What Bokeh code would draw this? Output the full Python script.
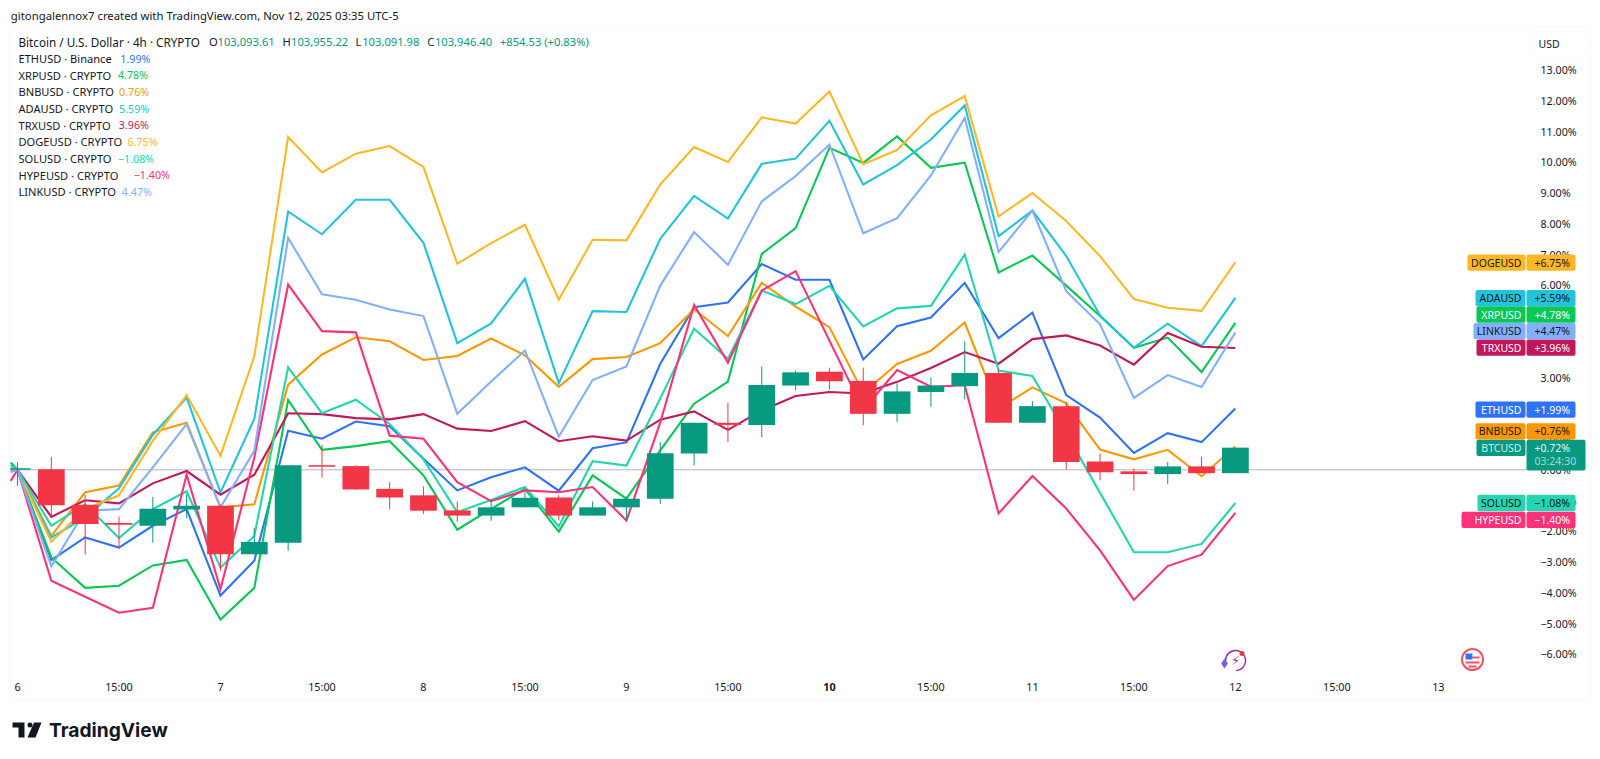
from bokeh.embed import file_html
from bokeh.resources import INLINE
from bokeh.plotting import figure
from bokeh.models import Range1d, FixedTicker, Label, BoxAnnotation, PolyAnnotation
from bokeh.core.properties import value

# ---------- data (percent change against the first bar) ----------
bar_index = list(range(37))
btc_open = [0, .02, -1.14, -1.73, -1.82, -1.29, -1.17, -2.75, -2.37, .15, .12, -.62, -.83, -1.32, -1.49, -1.22, -.90, -1.49, -1.22, -.94, .53, 1.53, 1.46, 2.74, 3.19, 2.89, 1.82, 2.53, 2.72, 3.15, 1.53, 2.07, .27, -.05, -.14, .11, -.11]
btc_high = [.25, .41, -.82, -1.52, -.88, -.79, -1.14, -1.90, .15, .81, .15, -.40, -.54, -1.03, -1.0, -.73, -.83, -1.03, -.87, .90, 1.53, 2.18, 3.36, 3.23, 3.32, 3.32, 2.81, 3.0, 4.18, 3.24, 2.23, 2.21, .53, .04, .25, .42, .72]
btc_low = [-.52, -1.53, -2.75, -2.56, -2.37, -1.57, -3.28, -2.75, -2.63, -.25, -.64, -1.28, -1.43, -1.69, -1.66, -1.22, -1.65, -1.49, -1.65, -1.11, .14, .90, 1.06, 2.58, 2.61, 1.45, 1.56, 2.05, 2.29, 1.53, 1.53, .01, -.34, -.68, -.47, -.11, -.11]
btc_close = [.05, -1.15, -1.76, -1.79, -1.27, -1.17, -2.75, -2.35, .15, .10, -.64, -.90, -1.33, -1.49, -1.22, -.91, -1.49, -1.22, -.94, .54, 1.53, 1.46, 2.76, 3.17, 2.88, 1.82, 2.55, 2.74, 3.15, 1.53, 2.07, .25, -.08, -.14, .11, -.11, .72]

line_index = [-0.2] + list(range(0, 37))
eth = [-.06, 0, -2.94, -2.20, -2.53, -1.82, -1.28, -4.09, -2.96, 1.27, 1.01, 1.57, 1.42, .36, -.67, -.24, .08, -.68, .70, .89, 3.45, 5.29, 5.44, 6.69, 6.18, 6.18, 3.59, 4.67, 4.95, 6.08, 4.28, 5.11, 2.43, 1.70, .55, 1.19, .90, 1.99]
xrp = [.24, 0, -2.85, -3.84, -3.77, -3.11, -2.93, -4.87, -3.84, 2.27, .65, .77, .93, -.18, -1.95, -1.27, -.62, -2.01, -.18, -.94, .63, 2.15, 2.87, 7.02, 7.86, 10.47, 9.98, 10.84, 9.82, 9.99, 6.42, 6.97, 5.99, 5.0, 3.97, 4.30, 3.18, 4.78]
bnb = [.06, 0, -2.15, -.73, -.51, 1.22, 1.53, -1.22, -1.12, 2.77, 3.75, 4.31, 4.18, 3.57, 3.70, 4.27, 3.72, 2.70, 3.60, 3.67, 4.12, 5.22, 4.35, 6.08, 5.31, 4.64, 2.50, 3.44, 3.87, 4.79, 1.99, 2.68, 2.16, .66, .34, .65, -.21, .76]
ada = [.06, 0, -2.20, -1.55, -.60, 1.14, 2.35, -.74, 1.65, 8.40, 7.66, 8.78, 8.78, 7.38, 4.12, 4.76, 6.21, 2.82, 5.16, 5.13, 7.51, 8.91, 8.17, 9.95, 10.12, 11.35, 9.28, 9.91, 10.74, 11.85, 7.60, 8.43, 6.95, 5.02, 3.97, 4.75, 4.02, 5.59]
trx = [.04, 0, -1.53, -.99, -1.09, -.44, -.04, -.81, -.16, 1.84, 1.81, 1.68, 1.64, 1.81, 1.34, 1.26, 1.58, .93, 1.09, .95, 1.63, 1.90, 1.30, 1.93, 2.40, 2.53, 2.48, 2.86, 3.31, 3.83, 3.45, 4.25, 4.37, 4.04, 3.42, 4.45, 4.0, 3.96]
doge = [.06, 0, -2.34, -1.28, -.83, .94, 2.43, .46, 3.69, 10.82, 9.67, 10.28, 10.53, 9.85, 6.70, 7.37, 7.97, 5.53, 7.48, 7.46, 9.28, 10.50, 10.01, 11.46, 11.26, 12.30, 9.94, 10.40, 11.53, 12.15, 8.24, 9.00, 8.09, 6.95, 5.55, 5.27, 5.17, 6.75]
sol = [.15, 0, -1.82, -1.12, -2.22, -1.28, -.70, -3.18, -2.15, 3.33, 1.84, 2.28, 1.49, .34, -1.38, -.98, -.56, -1.84, .28, .14, 2.32, 4.59, 3.61, 5.83, 5.39, 5.98, 4.66, 5.25, 5.33, 7.00, 3.23, 3.05, 1.19, -.75, -2.68, -2.68, -2.41, -1.08]
hype = [-.36, 0, -3.61, -4.13, -4.65, -4.49, -.16, -3.88, .4, 6.02, 4.51, 4.47, 1.11, 1.01, -.40, -1.02, -.67, -.73, -.56, -1.65, 1.54, 5.36, 3.48, 5.83, 6.46, 4.20, 1.95, 3.24, 2.70, 2.75, -1.42, -.20, -1.26, -2.62, -4.23, -3.13, -2.76, -1.40]
link = [-.06, 0, -3.14, -1.33, -1.28, .08, 1.49, -1.22, .62, 7.54, 5.71, 5.53, 5.21, 5.00, 1.82, 2.87, 3.88, 1.08, 2.92, 3.36, 5.99, 7.73, 6.67, 8.73, 9.55, 10.58, 7.69, 8.18, 9.57, 11.44, 7.08, 8.43, 5.81, 4.73, 2.34, 3.08, 2.69, 4.47]

series_names = ["ETHUSD", "XRPUSD", "BNBUSD", "ADAUSD", "TRXUSD", "DOGEUSD", "SOLUSD", "HYPEUSD", "LINKUSD"]
series_values = [eth, xrp, bnb, ada, trx, doge, sol, hype, link]
series_exchange = ["Binance", "CRYPTO", "CRYPTO", "CRYPTO", "CRYPTO", "CRYPTO", "CRYPTO", "CRYPTO", "CRYPTO"]
legend_values = ["1.99%", "4.78%", "0.76%", "5.59%", "3.96%", "6.75%", "\u22121.08%", "\u22121.40%", "4.47%"]
axis_values = ["+1.99%", "+4.78%", "+0.76%", "+5.59%", "+3.96%", "+6.75%", "\u22121.08%", "\u22121.40%", "+4.47%"]

y_ticks = list(range(-6, 14))
y_labels = {t: (f"{t}.00%" if t >= 0 else f"\u2212{-t}.00%") for t in y_ticks}
x_ticks = list(range(0, 43, 3))
x_labels = ["6", "15:00", "7", "15:00", "8", "15:00", "9", "15:00", "", "15:00", "11", "15:00", "12", "15:00", "13"]

# ---------- styles ----------
colors = ["#2E72F6", "#08C855", "#FF9800", "#22C4DB", "#C2185B", "#FFB823", "#22D6B0", "#FF3178", "#82AFFF"]
text_on = ["#ffffff", "#ffffff", "#131722", "#131722", "#ffffff", "#131722", "#131722", "#ffffff", "#131722"]
UP, DOWN = "#089981", "#F23645"
FONT = "Noto Sans"
DARK = "#131722"
SMALL = "10.5px"
W, H = 1592, 745
FL, FR, FB = 10, 1527, 667   # pane edges and time-axis line on the page


def dx(X):
    return (X - 17) / 33.83


def dy(Y):
    return (469.3 - Y) / 30.75


p = figure(width=W, height=H, output_backend="svg", toolbar_location=None,
           x_range=Range1d(dx(0), dx(W)), y_range=Range1d(dy(H), dy(0)),
           y_axis_location="right", min_border_left=0, min_border_top=0,
           min_border_right=0, min_border_bottom=0,
           background_fill_color="white", border_fill_color="white")
p.outline_line_color = None
p.grid.visible = False

ax = p.yaxis[0]
ax.fixed_location = dx(FR)
ax.ticker = FixedTicker(ticks=y_ticks)
ax.major_label_overrides = y_labels
ax.axis_line_color = None
ax.major_tick_line_color = None
ax.minor_tick_line_color = None
ax.major_label_standoff = 7
ax.major_label_text_font = FONT
ax.major_label_text_font_size = "10.7px"
ax.major_label_text_color = DARK

xa = p.xaxis[0]
xa.fixed_location = dy(FB)
xa.ticker = FixedTicker(ticks=x_ticks)
xa.major_label_overrides = dict(zip(x_ticks, x_labels))
xa.axis_line_color = None
xa.major_tick_line_color = None
xa.minor_tick_line_color = None
xa.major_label_standoff = 5
xa.major_label_text_font = FONT
xa.major_label_text_font_size = "10.8px"
xa.major_label_text_color = DARK


def add_text(X, Y, text, color=DARK, size=SMALL, bold=False, align="left", font=FONT, y_data=False):
    p.add_layout(Label(x=X, y=(Y if y_data else H - Y), x_units="screen",
                       y_units="data" if y_data else "screen", text=text, text_font=font,
                       text_font_size=size, text_color=color, text_align=align,
                       text_baseline="middle", text_font_style="bold" if bold else "normal"))


# outer frame of the chart
p.add_layout(BoxAnnotation(left=9.5, right=1590, top=26.5, bottom=699, left_units="canvas", right_units="canvas",
                           top_units="canvas", bottom_units="canvas", fill_color=None,
                           line_color="#F0F3FA", line_width=2, level="underlay"))

# zero line across the pane
p.segment([dx(FL)], [0], [dx(FR)], [0], line_color="#B2B5BE", line_width=1)

# series lines
for vals, col in zip(series_values, colors):
    p.line(line_index, vals, line_color=col, line_width=2.1, line_join="miter")

# candles on top of the lines
cols = [UP if c >= o else DOWN for o, c in zip(btc_open, btc_close)]
p.segment(bar_index, btc_low, bar_index, btc_high, line_color=cols, line_width=1)
p.vbar(x=bar_index[1:], bottom=[min(o, c) for o, c in zip(btc_open[1:], btc_close[1:])],
       top=[max(o, c) for o, c in zip(btc_open[1:], btc_close[1:])], width=0.79, fill_color=cols[1:], line_color=None)
# first candle is cut by the pane's left edge
p.quad(left=[dx(FL)], right=[0.39], bottom=[min(btc_open[0], btc_close[0])], top=[max(btc_open[0], btc_close[0])],
       fill_color=cols[0], line_color=None)

# top line and legend
add_text(10.3, 15, "gitongalennox7 created with TradingView.com, Nov 12, 2025 03:35 UTC-5", size="11.35px")
add_text(18, 41.3, "Bitcoin / U.S. Dollar \u00b7 4h \u00b7 CRYPTO", size="11.7px")
for X, t, col in [(208.6, "O", DARK), (217, "103,093.61", UP), (282, "H", DARK), (290.5, "103,955.22", UP),
                  (355, "L", DARK), (361.7, "103,091.98", UP), (426.7, "C", DARK), (434.4, "103,946.40", UP),
                  (499.4, "+854.53 (+0.83%)", UP)]:
    add_text(X, 41.3, t, col, size="11.2px")
legend_val_x = [119.8, 117.5, 118.6, 118.6, 118.3, 127, 117.5, 133.2, 121.3]
for k, (n, e, v, c, vx) in enumerate(zip(series_names, series_exchange, legend_values, colors, legend_val_x)):
    Y = 58 + k * 16.67
    add_text(18, Y, f"{n} \u00b7 {e}", size="11.1px")
    add_text(vx, Y, v, c, size="10.7px")

# bold day label
add_text(17 + 24 * 33.83, 686, "10", bold=True, align="center", size="10.8px")

# USD button
p.add_layout(BoxAnnotation(left=1529, right=1586, top=30, bottom=56, left_units="canvas", right_units="canvas",
                           top_units="canvas", bottom_units="canvas", fill_color="white", fill_alpha=1,
                           line_color="#F0F3FA", line_width=1.5, border_radius=4))
add_text(1538, 43, "USD")


# price tags
tag_positions = [1.96, 5.05, 1.25, 5.58, 3.97, 6.74, -1.08, -1.63, 4.51]
tag_left = [1475, 1476, 1475, 1475, 1476, 1467, 1477, 1461, 1473]
half = 0.265
tags = list(zip(series_names, axis_values, colors, text_on, tag_positions, tag_left))


def tag_box(xl, xr, ybot, ytop, col):
    p.add_layout(BoxAnnotation(left=xl, right=xr, bottom=ybot, top=ytop, left_units="canvas",
                               right_units="canvas", fill_color=col, fill_alpha=1, line_color=None, border_radius=2))


for n, v, c, tc, pos, xl in tags:
    tag_box(xl, 1525, pos - half, pos + half, c)
    tag_box(1526, 1575, pos - half, pos + half, c)
    add_text(1521, pos, n, tc, align="right", y_data=True)
    add_text(1534, pos, v, tc, y_data=True)

btc_pos = 0.71
tag_box(1476, 1525, btc_pos - half, btc_pos + half, UP)
tag_box(1526, 1585, btc_pos - 0.73, btc_pos + half, UP)
add_text(1521, btc_pos, "BTCUSD", "#D5EFEA", align="right", y_data=True)
add_text(1534, btc_pos, "+0.72%", "#E6F5F2", y_data=True)
add_text(1534, btc_pos - 0.44, "03:24:30", "#A5DAD0", y_data=True)


# decorative event icons on the time axis
p.arc(x=[dx(1235)], y=[dy(660)], radius=10 / 33.83, start_angle=-1.5, end_angle=3.6, line_color="#9C27B0",
      line_width=1.4)
p.text(x=[dx(1235)], y=[dy(660)], text=["\u26a1"], text_color="#9C27B0", text_font=value("DejaVu Sans"),
       text_font_size="13px", text_align="center", text_baseline="middle")
p.scatter(x=[dx(1224)], y=[dy(663)], marker="diamond", size=10, fill_color="#7B5CF0", line_color=None)
p.scatter(x=[dx(1241.5)], y=[dy(653)], marker="circle", size=5, fill_color="#F23645", line_color=None)
p.scatter(x=[dx(1472)], y=[dy(659)], marker="circle", size=21, fill_color="white", line_color="#F7525F", line_width=2)
p.quad(left=[dx(1465)], right=[dx(1472)], top=[dy(653)], bottom=[dy(659)], fill_color="#2E72F6", line_color=None)
p.quad(left=[dx(1472), dx(1465), dx(1468)], right=[dx(1479), dx(1479), dx(1476)],
       top=[dy(656), dy(661), dy(665)], bottom=[dy(658), dy(663), dy(667)], fill_color="#F7525F", line_color=None)

# TradingView logo
for xs, ys in [([12, 24, 24, 18, 18, 12], [722, 722, 737, 737, 727, 727]),
               ([33.5, 41, 35, 27], [722, 722, 737, 737])]:
    p.add_layout(PolyAnnotation(xs=xs, ys=ys, xs_units="canvas", ys_units="canvas",
                                fill_color=DARK, fill_alpha=1, line_color=None))
p.add_layout(BoxAnnotation(left=27, right=32, top=722, bottom=727, left_units="canvas", right_units="canvas",
                           top_units="canvas", bottom_units="canvas", fill_color=DARK, fill_alpha=1, line_color=None,
                           border_radius=3))
add_text(48.5, 729.5, "TradingView", DARK, size="19.2px", bold=True, font="Inter")

open("out.html", "w").write(file_html(p, INLINE))
